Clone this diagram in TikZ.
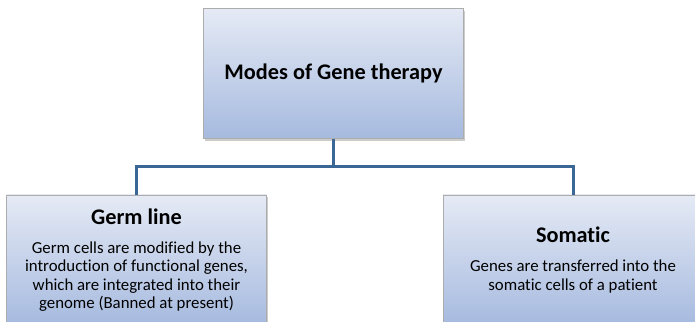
\documentclass[tikz,border=0pt]{standalone}
\usepackage{fontspec}
\setmainfont[Ligatures=NoCommon]{Carlito}
\usetikzlibrary{shadows}
\definecolor{boxtop}{RGB}{229,234,245}
\definecolor{boxbottom}{RGB}{166,186,223}
\definecolor{branchblue}{RGB}{58,103,150}
\newcommand{\boxtitle}[1]{{\fontsize{22.3}{22.3}\selectfont\bfseries #1}}
\begin{document}
\begin{tikzpicture}[x=1pt,y=1pt,
	modebox/.style={draw=gray!65,line width=0.8pt,top color=boxtop,bottom color=boxbottom,
		minimum width=260pt,minimum height=130pt,align=center,inner sep=0pt,
		font=\fontsize{16.8}{18.5}\selectfont,
		drop shadow={shadow xshift=1.5pt,shadow yshift=-2.5pt,opacity=0.4}},
	branch/.style={draw=branchblue,line width=3pt}]
	\useasboundingbox (0,0) rectangle (695,321);
	\clip (0,0) rectangle (695,321);
	\node[modebox] (mode) at (333.5,247.5) {\boxtitle{Modes of Gene therapy}};
	\node[modebox] (germ) at (136.5,61) {\boxtitle{Germ line}\\[10.5pt]
		Germ cells are modified by the\\
		introduction of functional genes,\\
		which are integrated into their\\
		genome (Banned at present)};
	\node[modebox] (somatic) at (573,61) {\boxtitle{Somatic}\\[10.5pt]
		Genes are transferred into the\\
		somatic cells of a patient};
	\coordinate (split) at (mode.south |- 0,154);
	\draw[branch] (mode.south) -- (split);
	\draw[branch] (germ.north) |- (split) -| (somatic.north);
\end{tikzpicture}
\end{document}
